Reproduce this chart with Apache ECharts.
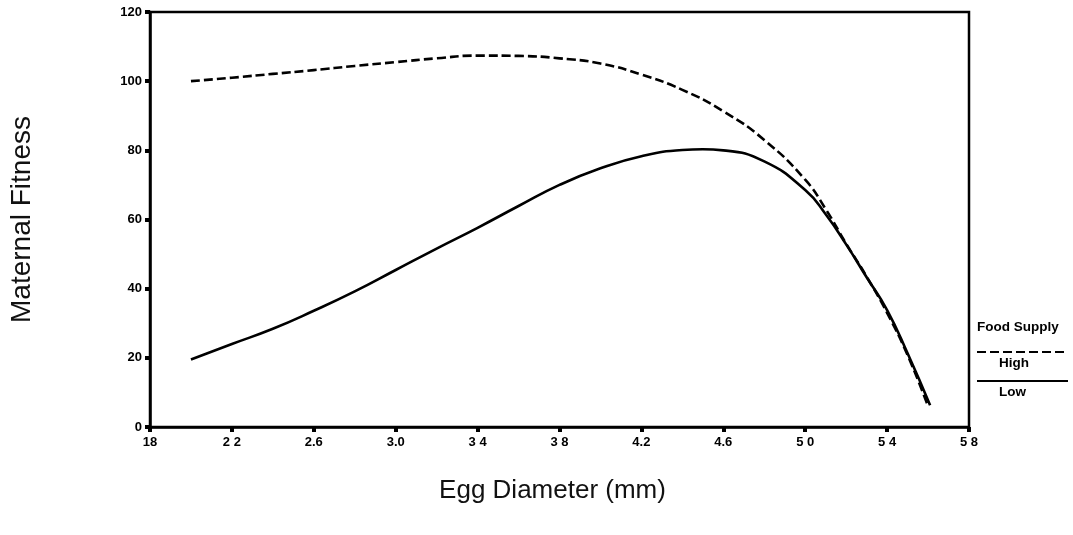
<!DOCTYPE html>
<html>
<head>
<meta charset="utf-8">
<script src="https://cdn.jsdelivr.net/npm/echarts@6/dist/echarts.min.js"></script>
<style>
  html, body { margin: 0; padding: 0; background: #fff; }
  #chart { width: 1073px; height: 535px; }
</style>
</head>
<body>
<div id="chart"></div>
<script>
// egg diameter (mm) for each curve
const diameterHigh = [2.0, 2.2, 2.4, 2.6, 2.8, 3.0, 3.2, 3.4, 3.6, 3.8, 4.0, 4.2, 4.4, 4.6, 4.8, 5.0, 5.1, 5.2, 5.3, 5.4, 5.5, 5.6]
const fitnessHigh = [100, 101, 102.1, 103.2, 104.4, 105.5, 106.6, 107.4, 107.3, 106.6, 105.1, 101.9, 97.5, 91.3, 83, 71.5, 63, 53, 43.5, 33, 20.8, 6]

const diameterLow = [2.0, 2.2, 2.4, 2.6, 2.8, 3.0, 3.2, 3.4, 3.6, 3.8, 4.0, 4.2, 4.4, 4.5, 4.6, 4.8, 5.0, 5.1, 5.2, 5.3, 5.4, 5.5, 5.61]
const fitnessLow = [19.5, 24, 28.4, 33.6, 39.2, 45.4, 51.6, 57.6, 63.9, 70, 74.8, 78.3, 80.1, 80.3, 80, 76.8, 68.5, 61.5, 52.8, 43.3, 33.8, 21.3, 6.3]

// tick labels as printed on the original (decimal points partly lost)
const xTickLabels = ['18', '2 2', '2.6', '3.0', '3 4', '3 8', '4.2', '4.6', '5 0', '5 4', '5 8']

const chart = echarts.init(document.getElementById('chart'))

const pairs = (xs, ys) => xs.map((x, i) => [x, ys[i]])
const font = 'Liberation Sans, Arial, Helvetica, sans-serif'

chart.setOption({
  animation: false,
  grid: {
    left: 148,
    right: 104,
    top: 12,
    bottom: 108,
    show: true,
    borderColor: '#000',
    borderWidth: 2.5
  },
  xAxis: {
    type: 'value',
    min: 1.8,
    max: 5.8,
    interval: 0.4,
    name: 'Egg Diameter (mm)',
    nameLocation: 'middle',
    nameGap: 51,
    nameTextStyle: { fontFamily: font, fontSize: 26, color: '#111', padding: [0, 14, 0, 0] },
    splitLine: { show: false },
    axisLine: { lineStyle: { color: '#000', width: 2.5 } },
    axisTick: { length: 5, lineStyle: { color: '#000', width: 4 } },
    axisLabel: {
      margin: 9,
      fontFamily: font,
      fontSize: 13,
      fontWeight: 'bold',
      color: '#000',
      formatter: v => xTickLabels[Math.round((v - 1.8) / 0.4)]
    }
  },
  yAxis: {
    type: 'value',
    min: 0,
    max: 120,
    interval: 20,
    name: 'Maternal Fitness',
    nameLocation: 'middle',
    nameGap: 114,
    nameTextStyle: { fontFamily: font, fontSize: 28, color: '#111' },
    splitLine: { show: false },
    axisLine: { lineStyle: { color: '#000', width: 2.5 } },
    axisTick: { length: 5, lineStyle: { color: '#000', width: 4 } },
    axisLabel: {
      margin: 8,
      fontFamily: font,
      fontSize: 13,
      fontWeight: 'bold',
      color: '#000'
    }
  },
  series: [
    {
      name: 'High',
      type: 'line',
      smooth: 0.5,
      showSymbol: false,
      lineStyle: { color: '#000', width: 2.6, type: [9, 4] },
      data: pairs(diameterHigh, fitnessHigh)
    },
    {
      name: 'Low',
      type: 'line',
      smooth: 0.5,
      showSymbol: false,
      lineStyle: { color: '#000', width: 2.6 },
      data: pairs(diameterLow, fitnessLow)
    }
  ],
  // hand-laid legend to the right of the frame
  graphic: [
    { type: 'text', left: 977, top: 320, style: { text: 'Food Supply', font: 'bold 13.5px ' + font, fill: '#000' } },
    { type: 'line', shape: { x1: 977, y1: 352, x2: 1068, y2: 352 }, style: { stroke: '#000', lineWidth: 2, lineDash: [9, 4] } },
    { type: 'text', left: 999, top: 356, style: { text: 'High', font: 'bold 13.5px ' + font, fill: '#000' } },
    { type: 'line', shape: { x1: 977, y1: 381, x2: 1068, y2: 381 }, style: { stroke: '#000', lineWidth: 2 } },
    { type: 'text', left: 999, top: 385, style: { text: 'Low', font: 'bold 13.5px ' + font, fill: '#000' } }
  ]
})
</script>
</body>
</html>
